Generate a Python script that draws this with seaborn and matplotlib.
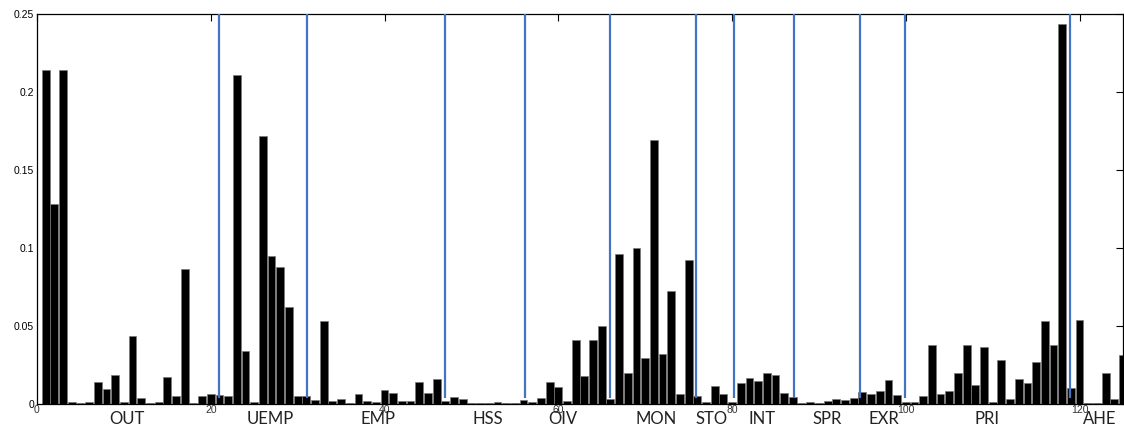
import numpy as np
import pandas as pd
import matplotlib
matplotlib.use("Agg")
import matplotlib.pyplot as plt
import seaborn as sns

# Variable importance per predictor (1..125)
importance = [
    0.214, 0.128, 0.214, 0.001, 0.0004, 0.001, 0.0143, 0.0094, 0.0184, 0.001,
    0.0436, 0.0036, 0.0004, 0.001, 0.017, 0.0053, 0.0865, 0.0004, 0.0053, 0.0062,
    0.0058, 0.0049, 0.211, 0.0338, 0.0013, 0.172, 0.095, 0.0878, 0.0624, 0.0053,
    0.0053, 0.0026, 0.0534, 0.002, 0.0032, 0.0006, 0.0062, 0.002, 0.0013, 0.009,
    0.007, 0.002, 0.0017, 0.0139, 0.007, 0.0158, 0.0017, 0.0043, 0.003, 0.0006,
    0.0006, 0.0006, 0.001, 0.0006, 0.0006, 0.0028, 0.0013, 0.0036, 0.0143, 0.011,
    0.0017, 0.041, 0.018, 0.041, 0.0502, 0.0032, 0.0964, 0.0197, 0.0998, 0.0297,
    0.169, 0.0318, 0.0726, 0.0066, 0.0925, 0.0049, 0.0013, 0.0113, 0.0062, 0.0013,
    0.0132, 0.0167, 0.0147, 0.0197, 0.0184, 0.007, 0.0045, 0.0004, 0.001, 0.0006,
    0.002, 0.003, 0.0026, 0.0036, 0.0075, 0.0066, 0.0081, 0.0156, 0.0058, 0.0013,
    0.001, 0.0049, 0.0378, 0.0062, 0.0081, 0.0197, 0.0378, 0.0124, 0.0365, 0.001,
    0.028, 0.003, 0.0158, 0.0132, 0.0267, 0.0534, 0.0378, 0.2438, 0.0103, 0.0538,
    0.0006, 0.0006, 0.0199, 0.003, 0.0314,
]
predictor = list(range(1, len(importance) + 1))

# Group separators and group names
group_bounds = [20.9, 31.1, 47.0, 56.2, 66.0, 75.9, 80.2, 87.1, 94.7, 99.9, 118.9]
group_names = ["OUT", "UEMP", "EMP", "HSS", "OIV", "MON", "STO", "INT",
               "SPR", "EXR", "PRI", "AHE"]
group_centers = [10.3, 26.9, 39.2, 51.9, 60.5, 71.3, 77.6, 83.4,
                 90.9, 97.5, 109.4, 122.3]

x_ticks = [0, 20, 40, 60, 80, 100, 120]
y_ticks = [0, 0.05, 0.1, 0.15, 0.2, 0.25]
y_tick_labels = ["0", "0.05", "0.1", "0.15", "0.2", "0.25"]

sns.set_style("white")
plt.rcParams["font.family"] = ["Liberation Sans", "DejaVu Sans"]

fig = plt.figure(figsize=(11.24, 4.32), dpi=100)
ax = fig.add_axes([37 / 1124, 28 / 432, 1086 / 1124, 390 / 432])

df = pd.DataFrame({"predictor": predictor, "importance": importance})
sns.barplot(data=df, x="predictor", y="importance", native_scale=True,
            color="black", saturation=1, width=0.9, errorbar=None,
            edgecolor="#7a7a7a", linewidth=0.5, ax=ax)

for xb in group_bounds:
    ax.plot([xb, xb], [0.004, 0.25], color="#4472C4", lw=1.6,
            solid_capstyle="butt", zorder=5, clip_on=False)

ax.set_xlim(0, 125)
ax.set_ylim(0, 0.25)
ax.set_xticks(x_ticks)
ax.set_xticklabels([str(t) for t in x_ticks])
ax.set_yticks(y_ticks)
ax.set_yticklabels(y_tick_labels)
ax.set_xlabel("")
ax.set_ylabel("")

ax.tick_params(axis="both", direction="in", length=5, width=0.8,
               top=True, right=True, colors="black", labelsize=7.5, pad=2)
ax.tick_params(axis="x", labelcolor="#333333", pad=1)

for side in ["left", "right", "top", "bottom"]:
    ax.spines[side].set_visible(True)
    ax.spines[side].set_color("black")
    ax.spines[side].set_linewidth(0.9)

trans = ax.get_xaxis_transform()
for name, xc in zip(group_names, group_centers):
    ax.text(xc, -0.038, name, transform=trans, ha="center", va="center",
            fontsize=12, family=["Lato", "DejaVu Sans"], color="#222222")

fig.savefig("out.png", dpi=100)
